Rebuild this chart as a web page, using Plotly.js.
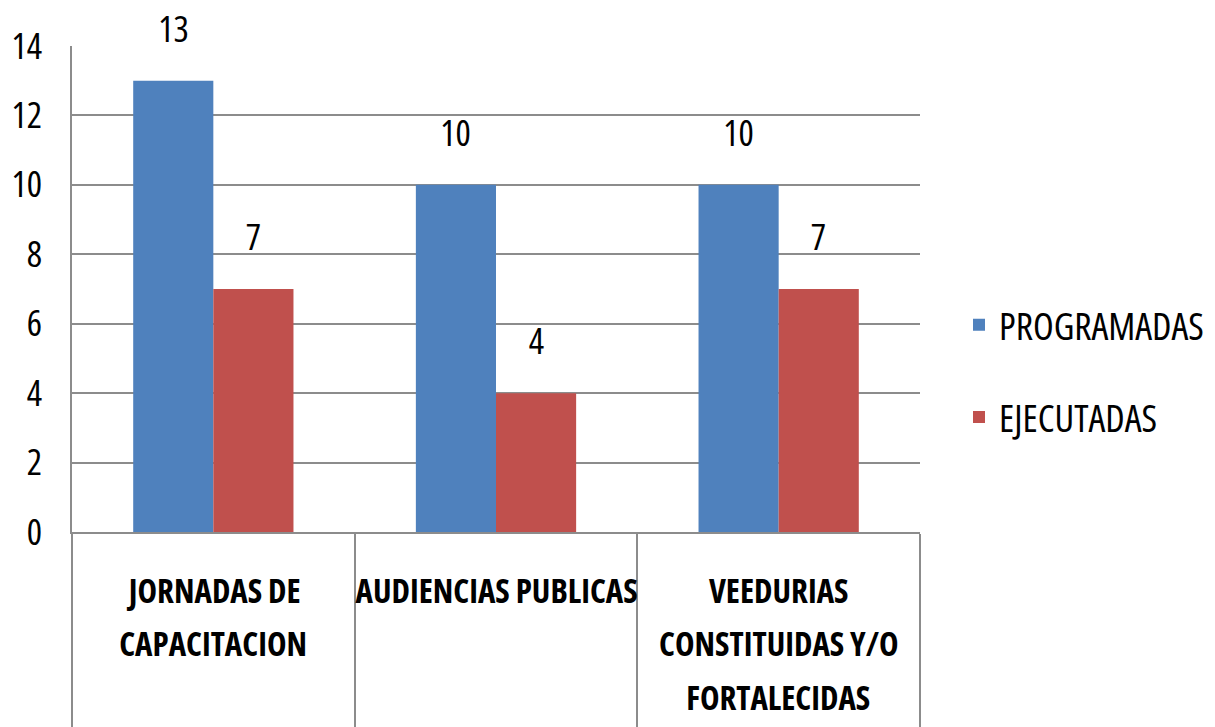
<!DOCTYPE html>
<html>
<head>
<meta charset="utf-8">
<script src="https://cdn.plot.ly/plotly-3.0.1.min.js"></script>
<style>
html,body{margin:0;padding:0;background:#fff;}
#chart{width:1215px;height:727px;}
#chart text{font-stretch:75%;}
</style>
</head>
<body>
<div id="chart"></div>
<script>
// ---- data ----
const categories = ["JORNADAS DE<br>CAPACITACION", "AUDIENCIAS PUBLICAS", "VEEDURIAS<br>CONSTITUIDAS Y/O<br>FORTALECIDAS"];
const programadas = [13, 10, 10];
const ejecutadas = [7, 4, 7];
const seriesNames = ["PROGRAMADAS", "EJECUTADAS"];
const yTickVals = [0, 2, 4, 6, 8, 10, 12, 14];

// ---- style ----
const FONT = "'Open Sans', sans-serif";
const colors = ["#4F81BD", "#C0504D"];
const gridCol = "#8c8c8c";
const W = 1215, H = 727;
const margin = {l: 72, r: 295, t: 46, b: 195};
const bargap = 0.433;
const plotW = W - margin.l - margin.r;
const barPx = plotW / categories.length * (1 - bargap) / 2;

const series = [programadas, ejecutadas];
const traces = series.map((vals, i) => ({
  type: "bar",
  name: seriesNames[i],
  x: categories,
  y: vals,
  marker: {color: colors[i]},
  legendgroup: "g" + i,
  hoverinfo: "x+y"
}));

const annotations = [];
// value labels
series.forEach((vals, i) => {
  vals.forEach((v, j) => {
    annotations.push({
      x: categories[j], y: v, xref: "x", yref: "y",
      text: String(v), showarrow: false,
      xshift: (i === 0 ? -1 : 1) * barPx / 2,
      yanchor: "bottom", yshift: 26,
      font: {family: FONT, size: 36, color: "#000"}
    });
  });
});
// category labels, one annotation per line
categories.forEach((c) => {
  c.split("<br>").forEach((line, k) => {
    annotations.push({
      x: c, y: 0, xref: "x", yref: "paper",
      text: "<b>" + line + "</b>", showarrow: false,
      yanchor: "middle", yshift: -(58 + k * 53.5),
      font: {family: FONT, size: 33, color: "#000"}
    });
  });
});

const layout = {
  width: W, height: H,
  margin: margin,
  paper_bgcolor: "#fff", plot_bgcolor: "#fff",
  font: {family: FONT, color: "#000"},
  barmode: "group",
  bargap: bargap,
  bargroupgap: 0,
  showlegend: true,
  legend: {
    xref: "container", x: 959 / W, xanchor: "left",
    yref: "container", y: 1 - 371 / H, yanchor: "middle",
    font: {family: FONT, size: 38, color: "#000"},
    traceorder: "grouped", tracegroupgap: 40,
    bgcolor: "rgba(0,0,0,0)"
  },
  xaxis: {
    type: "category",
    range: [-0.5, categories.length - 0.5],
    showticklabels: false,
    ticks: "outside", tickson: "boundaries",
    ticklen: margin.b, tickwidth: 1.5, tickcolor: gridCol,
    showline: true, linecolor: gridCol, linewidth: 1.5,
    showgrid: false, zeroline: false,
    fixedrange: true
  },
  yaxis: {
    range: [0, 14],
    tickvals: yTickVals,
    ticktext: yTickVals.map(String),
    ticks: "", ticklabelstandoff: 21,
    tickfont: {family: FONT, size: 36, color: "#000"},
    showgrid: true, gridcolor: gridCol, gridwidth: 1.5,
    showline: true, linecolor: gridCol, linewidth: 1.5,
    zeroline: false,
    fixedrange: true
  },
  annotations: annotations
};

Plotly.newPlot("chart", traces, layout, {displayModeBar: false});
</script>
</body>
</html>
